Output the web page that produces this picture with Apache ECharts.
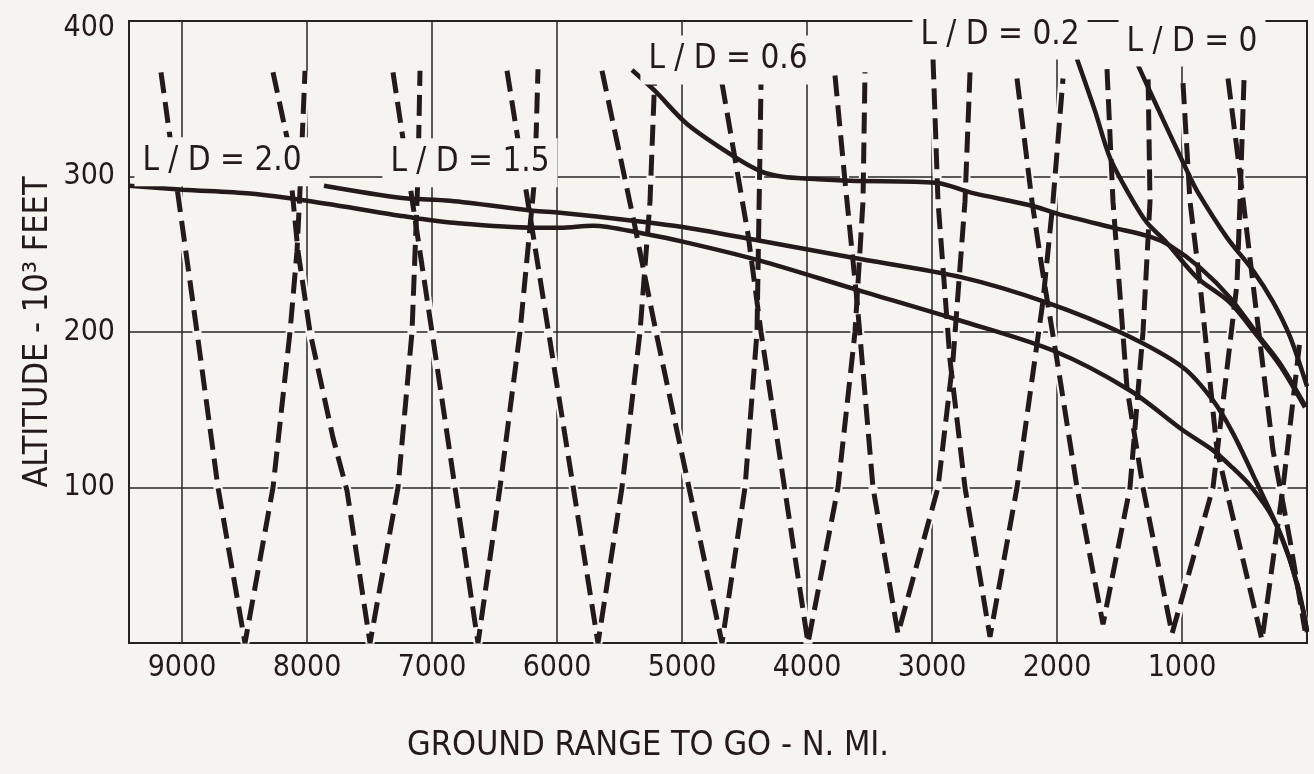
<!DOCTYPE html>
<html><head><meta charset="utf-8">
<script src="https://cdn.jsdelivr.net/npm/echarts@6/dist/echarts.min.js"></script>
<style>html,body{margin:0;padding:0;background:#f6f4ee}#c{width:1314px;height:774px}</style>
</head><body><div id="c"></div>
<script>
// ---- tick labels ----
const xTickValues = [1000, 2000, 3000, 4000, 5000, 6000, 7000, 8000, 9000];
const yTickValues = [100, 200, 300, 400];

// ---- solid trajectories [ground range to go (n.mi.), altitude (1000 ft)] ----
const ld20 = [[9424,294],[8992,291.5],[8456,289],[8000,284.4],[7256,274.8],[7152,273.5],[6856,270.4],[6192,267.1],[5976,267.1],[5712,268.4],[5312,263.3],[4960,257.5],[4376,245.9],[3632,227.9],[2776,207.4],[2032,188.1],[1416,162.4],[992,136.8],[752,123.9],[616,114.3],[456,101.4],[272,80.3],[136,53.3],[32,21.2],[0,7]];
const ld15 = [[7864,294],[7256,286.3],[6856,284.4],[6192,278],[5976,276.7],[5392,271.6],[4960,267.1],[4376,258.7],[3632,247.8],[2752,235],[2080,218.9],[1472,199],[992,177.2],[752,156],[592,134.8],[400,102.7],[216,70.6],[80,38.5],[0,8.3]];
const ld06 = [[5400,368.5],[5216,355],[4960,333.8],[4592,313.3],[4360,303],[4192,299.8],[3976,298.5],[3656,297.2],[2968,296],[2688,289.6],[2200,281.2],[2000,276.1],[1552,267.1],[1256,261.3],[1096,255.5],[856,241.4],[616,222.1],[400,199],[216,179.8],[16,152.8]];
const ld02 = [[1840,375.6],[1696,342.2],[1576,312],[1416,287.6],[1280,270.3],[1136,258.7],[880,235],[616,218.9],[400,197.7],[216,178.5],[16,151.5]];
const ld00 = [[1360,373],[1232,350.5],[960,303.7],[880,290.8],[640,260.7],[432,239.5],[272,219.4],[136,197],[0,165]];

// ---- dashed zig-zag curves ----
const v01 = [[9168,367],[8880,200],[8712,100],[8496,0],[8272,100],[8136,200],[8080,252],[8056,291],[8016,368]];
const v02 = [[8272,367],[8160,325],[8072,252],[7976,200],[7792,132],[7680,98],[7496,0],[7272,100],[7160,200],[7112,301],[7096,368]];
const v03 = [[7312,367],[7000,200],[6632,0],[6456,100],[6296,200],[6176,301],[6152,369]];
const v04 = [[6400,368],[5672,0],[5480,100],[5336,200],[5256,284],[5216,368]];
const v05 = [[5640,368],[5392,274],[5208,200],[4680,0],[4496,100],[4400,200],[4376,317],[4368,360]];
const v06 = [[4680,360],[4472,263],[4368,200],[3992,0],[3752,100],[3616,200],[3552,284],[3536,367]];
const v07 = [[3776,365],[3696,297],[3600,220],[3472,100],[3272,6],[2952,100],[2832,182],[2736,284],[2696,367]];
const v08 = [[2992,376],[2952,284],[2856,182],[2736,100],[2536,4],[2320,100],[2112,220],[2032,284],[1952,363]];
const v09 = [[2320,363],[2200,284],[2120,241],[2000,182],[1840,100],[1632,12],[1416,100],[1312,200],[1256,284],[1272,368]];
const v10 = [[1600,369],[1552,284],[1440,164],[1312,100],[1080,6],[752,100],[560,231],[536,284],[504,362]];
const v11 = [[992,360],[936,284],[856,231],[720,124],[360,2],[192,100],[56,195]];
const v12 = [[632,363],[536,302],[432,231],[272,124],[136,66],[16,8]];

// ---- curve labels ----
const labelTexts = ['L / D = 2.0', 'L / D = 1.5', 'L / D = 0.6', 'L / D = 0.2', 'L / D = 0'];
const labelAnchors = [[8680,309.5],[6696,308.8],[4632,375],[2456,391],[920,386.5]];

const INK = '#241a1b';
const PAPER = '#f6f4ee';
const FONT = "'Liberation Sans Narrow','DejaVu Sans Condensed','Arial Narrow','Liberation Sans',sans-serif";

const dashed = [v01,v02,v03,v04,v05,v06,v07,v08,v09,v10,v11,v12];
const solid = [ld20, ld15, ld06, ld02, ld00];

const series = [];
dashed.forEach((d) => {
  series.push({type:'line', data:d, symbol:'none', silent:true, z:2,
    lineStyle:{color:PAPER, width:9}});
});
solid.forEach((d) => {
  series.push({type:'line', data:d, symbol:'none', smooth:0.3, silent:true, z:3,
    lineStyle:{color:INK, width:4.5}});
});
dashed.forEach((d) => {
  series.push({type:'line', data:d, symbol:'none', silent:true, z:4,
    lineStyle:{color:INK, width:5, type:[21,9], cap:'butt'}});
});
series.push({
  type:'scatter', z:10, symbolSize:1, silent:true,
  itemStyle:{color:'rgba(0,0,0,0)', opacity:1},
  data: labelTexts.map((t, i) => ({name:t, value:labelAnchors[i]})),
  label:{show:true, position:'inside', formatter:p => p.name, fontFamily:FONT, fontSize:33,
    color:INK, opacity:1, backgroundColor:PAPER, padding:[8,8,8,8]}
});

const chart = echarts.init(document.getElementById('c'), null, {renderer:'canvas'});
chart.setOption({
  backgroundColor: PAPER,
  animation: false,
  grid: {left:129, right:7, top:21, bottom:131, show:true, borderColor:'#1e1e1e', borderWidth:2, backgroundColor:'transparent'},
  xAxis: {
    type:'value', inverse:true, min:0, max:9424, interval:1000,
    axisLine:{show:false}, axisTick:{show:false},
    splitLine:{show:true, lineStyle:{color:'#262626', width:1.5}},
    axisLabel:{fontFamily:FONT, fontSize:30, color:INK, margin:10,
      formatter: v => xTickValues.includes(v) ? String(v) : ''},
    name:'GROUND RANGE TO GO - N. MI.', nameLocation:'middle', nameGap:86,
    nameTextStyle:{fontFamily:FONT, fontSize:34, color:INK, padding:[0,140,0,0]}
  },
  yAxis: {
    type:'value', min:0, max:400, interval:100,
    axisLine:{show:false}, axisTick:{show:false},
    splitLine:{show:true, lineStyle:{color:'#262626', width:1.5}},
    axisLabel:{fontFamily:FONT, fontSize:30, color:INK, margin:14,
      formatter: v => !yTickValues.includes(v) ? '' : (v === 400 ? '{top|' + v + '}' : String(v)),
      rich:{top:{fontFamily:FONT, fontSize:30, color:INK, padding:[14,0,0,0]}}},
    name:'ALTITUDE - 10³ FEET', nameLocation:'middle', nameGap:74, nameRotate:90,
    nameMoveOverlap:false,
    nameTextStyle:{fontFamily:FONT, fontSize:34, color:INK}
  },
  series: series
});
</script>
</body></html>
